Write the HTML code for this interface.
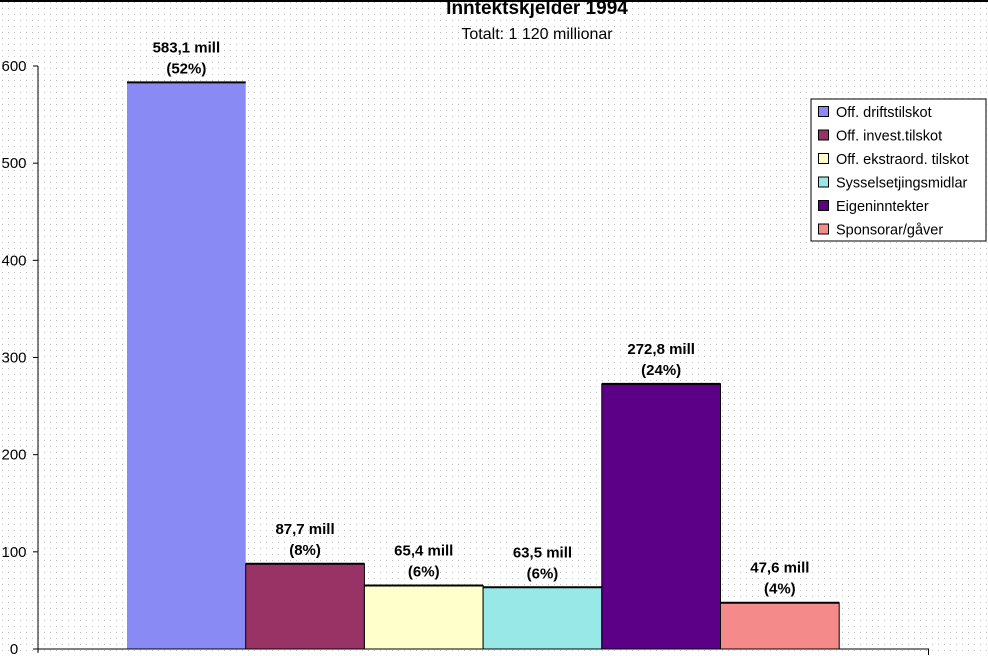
<!DOCTYPE html>
<html><head><meta charset="utf-8"><style>
body{margin:0;width:988px;height:656px;overflow:hidden;background:#fff;font-family:"Liberation Sans",Arial,sans-serif;}
svg{display:block}
</style></head><body>
<svg width="988" height="656" xmlns="http://www.w3.org/2000/svg">
<defs>
<pattern id="dots" width="6" height="6" patternUnits="userSpaceOnUse"><rect x="2" y="2" width="1" height="1" fill="#c4c4c4"/></pattern>
</defs>
<rect width="988" height="656" fill="#fff"/>
<rect width="988" height="656" fill="url(#dots)"/>
<text x="537" y="14" text-anchor="middle" font-size="19" font-weight="bold">Inntektskjelder 1994</text>
<rect x="0" y="0" width="988" height="2" fill="#000"/>
<text x="537" y="39" text-anchor="middle" font-size="16">Totalt:  1 120 millionar</text>
<g id="plot"></g>
<g id="legend">
<rect x="811" y="99" width="175" height="142" fill="#fff" stroke="#000" stroke-width="1"/>
</g>
</svg>
<script>
const categories=["Off. driftstilskot","Off. invest.tilskot","Off. ekstraord. tilskot","Sysselsetjingsmidlar","Eigeninntekter","Sponsorar/gåver"];
const values=[583.1,87.7,65.4,63.5,272.8,47.6];
const valueLabels=["583,1 mill","87,7 mill","65,4 mill","63,5 mill","272,8 mill","47,6 mill"];
const pctLabels=["(52%)","(8%)","(6%)","(6%)","(24%)","(4%)"];
const yTicks=[0,100,200,300,400,500,600];
const colors=["#8a8af5","#993366","#ffffcc","#99e8e8","#5c0088","#f58a8a"];
const NS="http://www.w3.org/2000/svg";
const plot=document.getElementById('plot');
const x0=38,y0=649,pxPer=583/600;
const barX0=127,barW=118.7;
function y(v){return y0-v*pxPer;}
function mk(t,a){const e=document.createElementNS(NS,t);for(const k in a)e.setAttribute(k,a[k]);return e;}
yTicks.forEach(v=>{
  const tk=mk('line',{x1:33,x2:x0,y1:y(v),y2:y(v),stroke:'#000'});
  
  
  plot.appendChild(tk);
  const t=mk('text',{x:14,y:y(v)+5,'text-anchor':'middle','font-size':'15'});
  t.textContent=v;
  
  
  plot.appendChild(t);
});
values.forEach((v,i)=>{
  const bx=barX0+i*barW;
  const r=mk('rect',{x:bx,y:y(v),width:barW,height:y0-y(v),fill:colors[i],stroke:i==0?'none':'#000','stroke-width':1});
  
  
  plot.appendChild(r);
  const top=mk('line',{x1:bx,x2:bx+barW,y1:y(v),y2:y(v),stroke:'#000','stroke-width':2});
  
  
  plot.appendChild(top);
  const l1=mk('text',{x:bx+barW/2,y:y(v)-30,'text-anchor':'middle','font-size':'15','font-weight':'bold'});
  l1.textContent=valueLabels[i];
  
  
  plot.appendChild(l1);
  const l2=mk('text',{x:bx+barW/2,y:y(v)-9,'text-anchor':'middle','font-size':'15','font-weight':'bold'});
  l2.textContent=pctLabels[i];
  
  
  plot.appendChild(l2);
});
const ya=mk('line',{x1:x0,x2:x0,y1:y(600),y2:y0+4,stroke:'#000'});


plot.appendChild(ya);
const xa=mk('line',{x1:x0,x2:929,y1:y0,y2:y0,stroke:'#000'});


plot.appendChild(xa);
const xe=mk('line',{x1:928.5,x2:928.5,y1:y0,y2:y0+6,stroke:'#000'});


plot.appendChild(xe);
const lg=document.getElementById('legend');
categories.forEach((c,i)=>{
  const yy=112+i*23.5;
  const s=mk('rect',{x:818.5,y:yy-5.5,width:10,height:10,fill:colors[i],stroke:'#000'});
  
  
  lg.appendChild(s);
  const t=mk('text',{x:836,y:yy+5,'font-size':'14.5'});
  t.textContent=c;
  
  
  lg.appendChild(t);
});
</script>
</body></html>
